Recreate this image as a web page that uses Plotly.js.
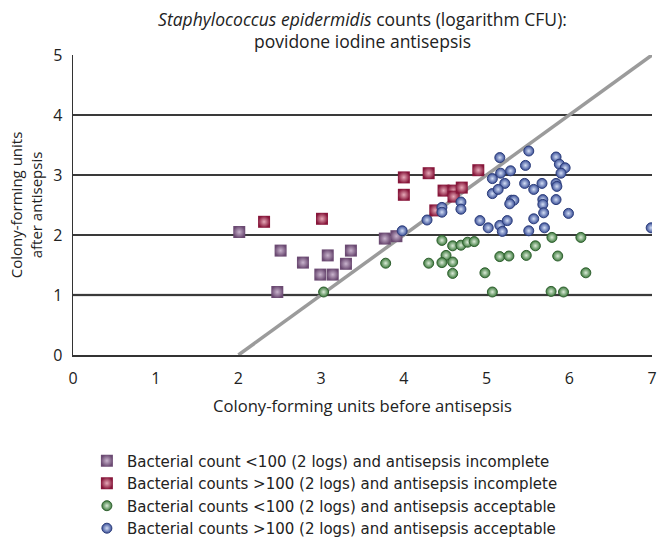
<!DOCTYPE html>
<html>
<head>
<meta charset="utf-8">
<script src="https://cdn.plot.ly/plotly-3.0.1.min.js"></script>
<style>html,body{margin:0;padding:0;background:#fff;}#chart{width:657px;height:544px;}</style>
</head>
<body>
<div id="chart"></div>
<script>
// Bacterial count <100 (2 logs) and antisepsis incomplete
var purpleX = [2.01, 2.51, 2.47, 2.78, 2.99, 3.14, 3.08, 3.30, 3.36, 3.77, 3.91];
var purpleY = [2.05, 1.74, 1.05, 1.54, 1.34, 1.34, 1.66, 1.52, 1.74, 1.94, 1.98];
// Bacterial counts >100 (2 logs) and antisepsis incomplete
var redX = [2.31, 3.01, 4.00, 4.00, 4.30, 4.90, 4.48, 4.60, 4.60, 4.70, 4.38];
var redY = [2.22, 2.27, 2.96, 2.67, 3.03, 3.08, 2.74, 2.74, 2.64, 2.79, 2.41];
// Bacterial counts <100 (2 logs) and antisepsis acceptable
var greenX = [3.03, 3.78, 4.30, 4.46, 4.59, 4.69, 4.77, 4.85, 4.51, 4.46, 4.59, 4.59, 4.98, 5.07, 5.16, 5.27, 5.79, 6.14, 5.59, 5.48, 5.86, 6.20, 5.78, 5.93];
var greenY = [1.05, 1.53, 1.53, 1.91, 1.82, 1.83, 1.88, 1.89, 1.66, 1.54, 1.55, 1.36, 1.37, 1.05, 1.64, 1.65, 1.96, 1.96, 1.82, 1.66, 1.65, 1.37, 1.06, 1.05];
// Bacterial counts >100 (2 logs) and antisepsis acceptable
var blueX = [3.98, 4.28, 4.46, 4.46, 4.69, 4.69, 4.92, 5.02, 5.16, 5.19, 5.25, 5.07, 5.17, 5.22, 5.07, 5.14, 5.29, 5.16, 5.51, 5.47, 5.84, 5.88, 5.95, 5.90, 5.46, 5.67, 5.57, 5.84, 5.85, 5.30, 5.33, 5.28, 5.68, 5.68, 5.84, 5.69, 5.99, 5.57, 5.51, 5.70, 6.99];
var blueY = [2.07, 2.25, 2.46, 2.38, 2.55, 2.43, 2.24, 2.12, 2.16, 2.06, 2.24, 2.94, 3.03, 2.86, 2.69, 2.76, 3.07, 3.29, 3.40, 3.16, 3.30, 3.18, 3.12, 3.03, 2.86, 2.86, 2.76, 2.86, 2.81, 2.58, 2.58, 2.52, 2.59, 2.51, 2.59, 2.37, 2.36, 2.27, 2.07, 2.12, 2.12];
// Line of identity shifted by 2 logs
var diagX = [2, 7];
var diagY = [0, 5];

var seriesNames = [
  'Bacterial count <100 (2 logs) and antisepsis incomplete',
  'Bacterial counts >100 (2 logs) and antisepsis incomplete',
  'Bacterial counts <100 (2 logs) and antisepsis acceptable',
  'Bacterial counts >100 (2 logs) and antisepsis acceptable'
];
var xTicks = [0, 1, 2, 3, 4, 5, 6, 7];
var yTicks = [0, 1, 2, 3, 4, 5];

var FONT = 'Open Sans, Liberation Sans, Arial, sans-serif';
var LEGFONT = 'DejaVu Sans, Open Sans, sans-serif';
var traces = [
  {x: diagX, y: diagY, mode: 'lines', line: {color: '#9b9b9b', width: 3.5}, showlegend: false, hoverinfo: 'skip'},
  {x: purpleX, y: purpleY, mode: 'markers', name: seriesNames[0],
   marker: {symbol: 'square', size: 12, color: '#6b4a72', gradient: {type: 'radial', color: '#c9b4cd'}, line: {width: 0}}},
  {x: redX, y: redY, mode: 'markers', name: seriesNames[1],
   marker: {symbol: 'square', size: 12, color: '#87163a', gradient: {type: 'radial', color: '#e6a9b8'}, line: {width: 0}}},
  {x: greenX, y: greenY, mode: 'markers', name: seriesNames[2],
   marker: {symbol: 'circle', size: 10, color: '#3c7a3c', gradient: {type: 'radial', color: '#dcebd9'}, line: {width: 1, color: '#2f5f2f'}}},
  {x: blueX, y: blueY, mode: 'markers', name: seriesNames[3],
   marker: {symbol: 'circle', size: 10, color: '#3a4f98', gradient: {type: 'radial', color: '#d3def5'}, line: {width: 1, color: '#2c3d7a'}}}
];

var layout = {
  width: 657, height: 544,
  margin: {l: 73, r: 5, t: 55, b: 189},
  paper_bgcolor: '#ffffff', plot_bgcolor: '#ffffff',
  font: {family: FONT, size: 15, color: '#222'},
  title: {text: '<i>Staphylococcus epidermidis</i> counts (logarithm CFU):<br>povidone iodine antisepsis',
          x: 0.5, xref: 'paper', xanchor: 'center', y: 0.953, yref: 'container', yanchor: 'top',
          font: {family: FONT, size: 17.5, color: '#222'}},
  xaxis: {range: [0, 7], tickvals: xTicks, ticktext: xTicks.map(String), showgrid: false, zeroline: false,
          showline: true, linecolor: '#333', linewidth: 1.5, ticks: '', ticklabelstandoff: 8,
          tickfont: {size: 16, color: '#222'},
          title: {text: 'Colony-forming units before antisepsis', font: {size: 16.6, color: '#222'}, standoff: 12}},
  yaxis: {range: [0, 5], tickvals: yTicks, ticktext: yTicks.map(String), showgrid: true, gridcolor: '#3a3a3a', gridwidth: 1.1,
          zeroline: false, showline: true, linecolor: '#333', linewidth: 1.5, ticks: '', ticklabelstandoff: 6,
          tickfont: {size: 16, color: '#222'},
          title: {text: 'Colony-forming units<br>after antisepsis', font: {size: 15, color: '#222'}, standoff: 7}},
  shapes: [{type: 'line', xref: 'paper', x0: 0, x1: 1, yref: 'y', y0: 1, y1: 1, layer: 'between',
            line: {color: '#9b9b9b', width: 2.5}}],
  showlegend: true,
  legend: {x: 0.024, xanchor: 'left', xref: 'paper', y: 0.183, yref: 'container', yanchor: 'top', orientation: 'v',
           font: {family: LEGFONT, size: 15, color: '#222'}, bgcolor: 'rgba(0,0,0,0)', traceorder: 'normal'}
};

Plotly.newPlot('chart', traces, layout, {displayModeBar: false, staticPlot: true});
</script>
</body>
</html>
